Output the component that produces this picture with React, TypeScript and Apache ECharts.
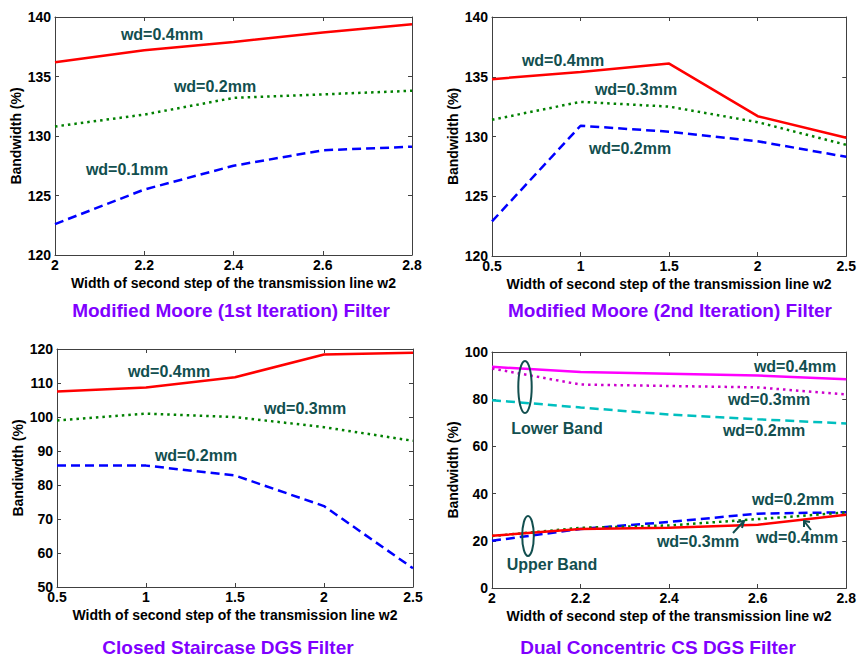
import React, { useEffect, useRef } from "react";
import * as echarts from "echarts";

const xA = [2, 2.2, 2.4, 2.6, 2.8];
const xB = [0.5, 1, 1.5, 2, 2.5];

const p1Wd04 = [136.2, 137.2, 137.9, 138.7, 139.4];
const p1Wd02 = [130.8, 131.8, 133.2, 133.5, 133.8];
const p1Wd01 = [122.6, 125.5, 127.5, 128.8, 129.1];

const p2Wd04 = [134.8, 135.4, 136.1, 131.7, 129.9];
const p2Wd03 = [131.4, 132.9, 132.5, 131.2, 129.3];
const p2Wd02 = [122.9, 130.9, 130.4, 129.6, 128.3];

const p3Wd04 = [107.5, 108.7, 111.7, 118.4, 118.9];
const p3Wd03 = [99, 101, 100, 97, 93];
const p3Wd02 = [85.7, 85.7, 82.8, 73.8, 55.5];

const p4LowWd04 = [93.7, 91.5, 90.8, 90, 88.5];
const p4LowWd03 = [93, 86.2, 85.6, 85, 82];
const p4LowWd02 = [79.6, 76.5, 73.5, 71.5, 69.7];
const p4UpWd04 = [22.1, 25, 25.5, 26.8, 31];
const p4UpWd03 = [22, 25.5, 26.5, 29.2, 32];
const p4UpWd02 = [20, 25, 28, 31.5, 32.1];

const xTitle = "Width of second step of the transmission line w2";
const panelTitles = [
  "Modified Moore (1st Iteration) Filter",
  "Modified Moore (2nd Iteration) Filter",
  "Closed Staircase DGS Filter",
  "Dual Concentric CS DGS Filter",
];
const yTitles = ["Bandwidth (%)", "Bandwidth (%)", "Bandiwdth (%)", "Bandwidth (%)"];

const FONT = '"Liberation Sans", Arial, sans-serif';
const AXIS_COLOR = "#404040";
const NOTE_COLOR = "#124f4f";
const TITLE_COLOR = "#8000ff";

const grids = [
  { left: 55, top: 17, width: 357, height: 238 },
  { left: 492, top: 17, width: 356, height: 239 },
  { left: 57, top: 349, width: 356, height: 238 },
  { left: 492, top: 352, width: 356, height: 236 },
];
const xRanges = [
  { min: 2, max: 2.8, interval: 0.2 },
  { min: 0.5, max: 2.5, interval: 0.5 },
  { min: 0.5, max: 2.5, interval: 0.5 },
  { min: 2, max: 2.8, interval: 0.2 },
];
const yRanges = [
  { min: 120, max: 140, interval: 5 },
  { min: 120, max: 140, interval: 5 },
  { min: 50, max: 120, interval: 10 },
  { min: 0, max: 100, interval: 20 },
];

function pairs(xs: number[], ys: number[]) {
  return xs.map((x, i) => [x, ys[i]]);
}

export default function App() {
  const ref = useRef<HTMLDivElement>(null);
  useEffect(() => {
    document.body.style.margin = "0";
    const chart = echarts.init(ref.current!, undefined, { renderer: "svg" });

    const xAxes: any[] = [];
    const yAxes: any[] = [];
    grids.forEach((_, i) => {
      const common = {
        type: "value",
        gridIndex: i,
        axisLine: { show: true, onZero: false, lineStyle: { color: AXIS_COLOR, width: 1 } },
        axisTick: { show: true, inside: true, length: 4, lineStyle: { color: AXIS_COLOR } },
        splitLine: { show: false },
      };
      xAxes.push({
        ...common,
        ...xRanges[i],
        position: "bottom",
        name: xTitle,
        nameLocation: "middle",
        nameGap: 21,
        nameTextStyle: { fontFamily: FONT, fontWeight: "bold", fontSize: 14, color: "#000" },
        axisLabel: { fontFamily: FONT, fontWeight: "bold", fontSize: 14, color: "#000", margin: 3 },
      });
      yAxes.push({
        ...common,
        ...yRanges[i],
        position: "left",
        name: yTitles[i],
        nameLocation: "middle",
        nameGap: 32,
        nameRotate: 90,
        nameTextStyle: { fontFamily: FONT, fontWeight: "bold", fontSize: 14, color: "#000" },
        axisLabel: { fontFamily: FONT, fontWeight: "bold", fontSize: 14, color: "#000", margin: 4 },
      });
    });
    grids.forEach((_, i) => {
      const common = {
        type: "value",
        gridIndex: i,
        axisLine: { show: true, onZero: false, lineStyle: { color: AXIS_COLOR, width: 1 } },
        axisTick: { show: true, inside: true, length: 4, lineStyle: { color: AXIS_COLOR } },
        axisLabel: { show: false },
        splitLine: { show: false },
      };
      xAxes.push({ ...common, ...xRanges[i], position: "top" });
      yAxes.push({ ...common, ...yRanges[i], position: "right" });
    });

    const line = (gi: number, xs: number[], ys: number[], color: string, type: any) => ({
      type: "line",
      xAxisIndex: gi,
      yAxisIndex: gi,
      data: pairs(xs, ys),
      showSymbol: false,
      symbol: "none",
      lineStyle: { color, width: 2.5, type, cap: "butt" },
      z: 3,
    });
    const DOT = [2.5, 4];
    const DASH = [9, 5];

    const series = [
      line(0, xA, p1Wd04, "#ff0000", "solid"),
      line(0, xA, p1Wd02, "#008000", DOT),
      line(0, xA, p1Wd01, "#0000ff", DASH),
      line(1, xB, p2Wd04, "#ff0000", "solid"),
      line(1, xB, p2Wd03, "#008000", DOT),
      line(1, xB, p2Wd02, "#0000ff", DASH),
      line(2, xB, p3Wd04, "#ff0000", "solid"),
      line(2, xB, p3Wd03, "#008000", DOT),
      line(2, xB, p3Wd02, "#0000ff", DASH),
      line(3, xA, p4LowWd04, "#ff00ff", "solid"),
      line(3, xA, p4LowWd03, "#cc00cc", DOT),
      line(3, xA, p4LowWd02, "#00bfbf", DASH),
      line(3, xA, p4UpWd02, "#0000ff", DASH),
      line(3, xA, p4UpWd03, "#008000", DOT),
      line(3, xA, p4UpWd04, "#ff0000", "solid"),
    ];

    const note = (text: string, x: number, y: number) => ({
      type: "text",
      x,
      y,
      z: 10,
      style: {
        text,
        x: 0,
        y: 0,
        align: "center",
        verticalAlign: "middle",
        fill: NOTE_COLOR,
        font: `bold 16px ${FONT}`,
      },
    });
    const title = (text: string, x: number, y: number) => ({
      type: "text",
      x,
      y,
      z: 10,
      style: {
        text,
        align: "center",
        verticalAlign: "middle",
        fill: TITLE_COLOR,
        font: `bold 19px ${FONT}`,
      },
    });

    const graphic: any[] = [
      title(panelTitles[0], 231, 310),
      title(panelTitles[1], 670, 310),
      title(panelTitles[2], 228, 647),
      title(panelTitles[3], 658, 647),
      note("wd=0.4mm", 162, 34),
      note("wd=0.2mm", 215, 86),
      note("wd=0.1mm", 127, 169),
      note("wd=0.4mm", 563, 60),
      note("wd=0.3mm", 636, 89),
      note("wd=0.2mm", 630, 148),
      note("wd=0.4mm", 169, 371),
      note("wd=0.3mm", 305, 408),
      note("wd=0.2mm", 196, 455),
      note("wd=0.4mm", 795, 366),
      note("wd=0.3mm", 769, 399),
      note("wd=0.2mm", 764, 430),
      note("Lower Band", 557, 428),
      note("wd=0.2mm", 793, 499),
      note("wd=0.3mm", 698, 541),
      note("wd=0.4mm", 797, 537),
      note("Upper Band", 552, 564),
      {
        type: "ellipse",
        z: 11,
        shape: { cx: 525, cy: 387, rx: 6.7, ry: 26 },
        style: { fill: "none", stroke: NOTE_COLOR, lineWidth: 2 },
      },
      {
        type: "ellipse",
        z: 11,
        shape: { cx: 528, cy: 536, rx: 5.8, ry: 20 },
        style: { fill: "none", stroke: NOTE_COLOR, lineWidth: 2 },
      },
      {
        type: "line",
        z: 11,
        shape: { x1: 733, y1: 533, x2: 744, y2: 521 },
        style: { stroke: NOTE_COLOR, lineWidth: 2 },
      },
      {
        type: "polyline",
        z: 11,
        shape: { points: [[737, 522], [744, 521], [742, 528]] },
        style: { stroke: NOTE_COLOR, lineWidth: 2, fill: "none" },
      },
      {
        type: "line",
        z: 11,
        shape: { x1: 811, y1: 530, x2: 804, y2: 521 },
        style: { stroke: NOTE_COLOR, lineWidth: 2 },
      },
      {
        type: "polyline",
        z: 11,
        shape: { points: [[804, 527], [804, 521], [810, 522]] },
        style: { stroke: NOTE_COLOR, lineWidth: 2, fill: "none" },
      },
    ];

    chart.setOption({
      animation: false,
      backgroundColor: "#ffffff",
      textStyle: { fontFamily: FONT },
      grid: grids.map((g) => ({ ...g, containLabel: false })),
      xAxis: xAxes,
      yAxis: yAxes,
      series,
      graphic,
    });
    return () => chart.dispose();
  }, []);
  return <div ref={ref} style={{ width: 859, height: 657 }} />;
}
